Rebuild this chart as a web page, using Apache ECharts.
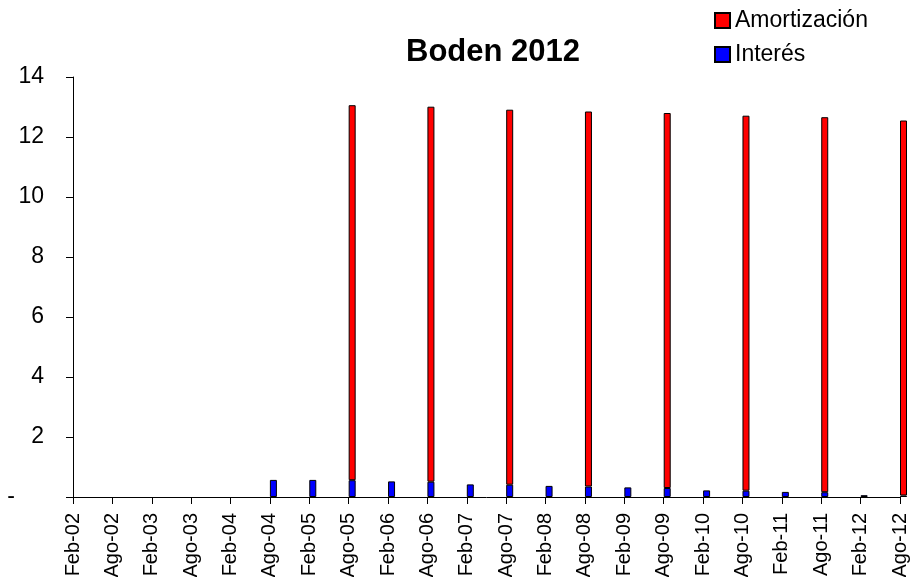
<!DOCTYPE html>
<html>
<head>
<meta charset="utf-8">
<title>Boden 2012</title>
<script src="https://cdn.jsdelivr.net/npm/echarts@6/dist/echarts.min.js"></script>
<style>
    html, body { margin: 0; padding: 0; background: #fff; }
    #container { width: 923px; height: 577px; }
</style>
</head>
<body>
<div id="container"></div>
<script>
// 横坐标，付款日期
var fechas = ['Feb-02', 'Ago-02', 'Feb-03', 'Ago-03', 'Feb-04', 'Ago-04', 'Feb-05', 'Ago-05',
    'Feb-06', 'Ago-06', 'Feb-07', 'Ago-07', 'Feb-08', 'Ago-08', 'Feb-09', 'Ago-09',
    'Feb-10', 'Ago-10', 'Feb-11', 'Ago-11', 'Feb-12', 'Ago-12'];
// 利息
var interes = [null, null, null, null, null, 0.57, 0.57, 0.56, 0.52, 0.51, 0.42, 0.41,
    0.37, 0.35, 0.32, 0.30, 0.22, 0.21, 0.17, 0.16, 0.06, 0.05];
// 摊还
var amortizacion = [null, null, null, null, null, null, null, 12.5, null, 12.5, null, 12.5,
    null, 12.5, null, 12.5, null, 12.5, null, 12.5, null, 12.5];
// 纵坐标刻度
var yMin = 0;
var yMax = 14;
var yStep = 2;

var font = 'Liberation Sans, Arial, sans-serif';

var chart = echarts.init(document.getElementById('container'));
var option = {
    animation: false,
    backgroundColor: '#fff',
    title: {
        text: 'Boden 2012',
        left: 401,
        top: 32,
        textStyle: {
            fontFamily: font,
            fontSize: 31,
            fontWeight: 'bold',
            color: '#000'
        }
    },
    legend: {
        data: ['Amortización', 'Interés'],
        orient: 'vertical',
        left: 709,
        top: 4,
        itemWidth: 15,
        itemHeight: 15,
        itemGap: 11,
        icon: 'rect',
        textStyle: {
            fontFamily: font,
            fontSize: 23,
            color: '#000'
        }
    },
    grid: {
        left: 73,
        right: 23,
        top: 77,
        bottom: 80,
        outerBoundsMode: 'none'
    },
    xAxis: {
        type: 'category',
        data: fechas,
        boundaryGap: false,
        axisLine: { lineStyle: { color: '#000', width: 1 } },
        axisTick: { show: true, interval: 0, length: 7, lineStyle: { color: '#000' } },
        axisLabel: {
            interval: 0,
            rotate: 90,
            margin: 16,
            fontFamily: font,
            fontSize: 20,
            color: '#000'
        },
        splitLine: { show: false }
    },
    yAxis: {
        type: 'value',
        min: yMin,
        max: yMax,
        interval: yStep,
        axisLine: { show: true, lineStyle: { color: '#000', width: 1 } },
        axisTick: { show: true, length: 7, lineStyle: { color: '#000' } },
        splitLine: { show: false },
        axisLabel: {
            margin: 29,
            fontFamily: font,
            fontSize: 23,
            color: '#000',
            formatter: function (v) {
                // 零值显示为 "-"
                return v === 0 ? '{d|-}' : String(v);
            },
            rich: {
                d: { fontFamily: font, fontSize: 23, color: '#000', padding: [0, 29, 0, 0] }
            }
        }
    },
    series: [{
        // 占位，使柱子位于刻度右侧
        name: 'pad',
        type: 'bar',
        stack: 'pad',
        barWidth: 7,
        barGap: 0,
        data: []
    }, {
        name: 'Interés',
        type: 'bar',
        stack: 'pago',
        barWidth: 7,
        barGap: 0,
        itemStyle: { color: '#0000ff', borderColor: '#000', borderWidth: 1 },
        data: interes
    }, {
        name: 'Amortización',
        type: 'bar',
        stack: 'pago',
        barWidth: 7,
        barGap: 0,
        itemStyle: { color: '#ff0000', borderColor: '#000', borderWidth: 1 },
        data: amortizacion
    }]
};
chart.setOption(option);
</script>
</body>
</html>
